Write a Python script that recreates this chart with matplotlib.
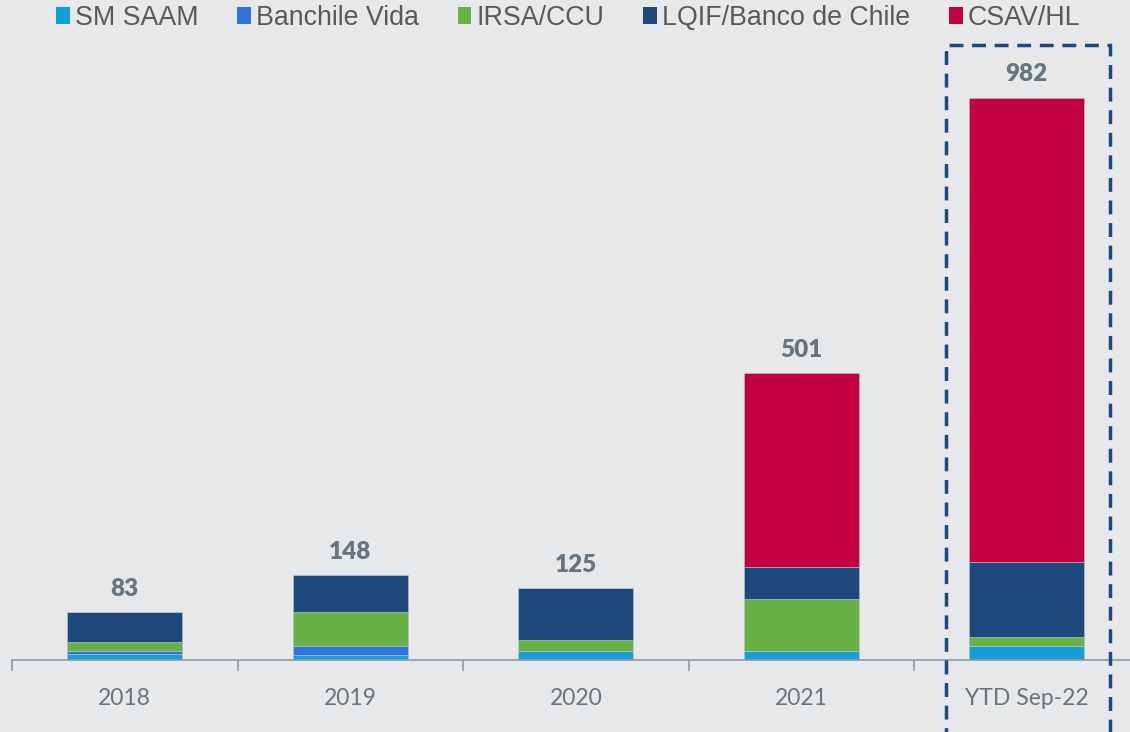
import matplotlib.pyplot as plt
import numpy as np
from matplotlib.patches import Patch, Rectangle

categories = ['2018', '2019', '2020', '2021', 'YTD Sep-22']
series = ['SM SAAM', 'Banchile Vida', 'IRSA/CCU', 'LQIF/Banco de Chile', 'CSAV/HL']
sm_saam = [11, 9, 15, 15, 24]
banchile = [5, 15, 0, 0, 0]
irsa = [15, 60, 20, 91, 16]
lqif = [52, 64, 90, 56, 132]
csav = [0, 0, 0, 339, 810]
totals = [83, 148, 125, 501, 982]
colors = ['#149fdb', '#2d74de', '#67b145', '#1f487c', '#c20042']

bg = '#e7e8ea'
W, H = 1130, 732

fig = plt.figure(figsize=(W / 100, H / 100), dpi=100, facecolor=bg)
ax = fig.add_axes([12 / W, 72 / H, 1127.5 / W, 1100 * 0.5723 / H])
ax.set_facecolor(bg)

x = np.arange(len(categories))
bottom = np.zeros(len(categories))
for vals, col in zip([sm_saam, banchile, irsa, lqif, csav], colors):
    vals = np.array(vals, dtype=float)
    ax.bar(x, vals, 0.511, bottom=bottom, color=col, edgecolor='#b9c3d0', linewidth=0.4)
    bottom += vals

for xi, t in zip(x, totals):
    ax.annotate(str(t), (xi, t), xytext=(0, 17), textcoords='offset points',
                ha='center', va='center', fontsize=17.5, fontweight='heavy',
                color='#66757f', family='Lato')

ax.set_xlim(-0.5, 4.5)
ax.set_ylim(0, 1100)
for s in ['top', 'right', 'left']:
    ax.spines[s].set_visible(False)
ax.spines['bottom'].set_color('#8b98a3')
ax.spines['bottom'].set_linewidth(1.2)
ax.set_yticks([])
ax.set_xticks(x)
ax.set_xticklabels(categories, fontsize=16.5, color='#66757f', family='Lato')
ax.tick_params(axis='x', which='major', length=0, pad=20)
ax.set_xticks(np.arange(-0.5, 4.6, 1), minor=True)
ax.tick_params(axis='x', which='minor', length=8, width=1.2, color='#8b98a3')

handles = [Patch(facecolor=c, edgecolor='none') for c in colors]
fig.legend(handles, series, loc='center', bbox_to_anchor=(0.503, 1 - 18 / H), ncol=5,
           frameon=False, prop={'family': 'Liberation Sans', 'size': 19.3},
           labelcolor='#595959', handlelength=0.5, handleheight=0.55,
           handletextpad=0.2, columnspacing=1.45, borderpad=0, borderaxespad=0)

# dashed highlight box around the latest period
fig.add_artist(Rectangle((946 / W, -10 / H), (1110 - 946) / W, (H - 45 + 10) / H,
                         transform=fig.transFigure, fill=False, edgecolor='#1f487c',
                         linewidth=2.5, linestyle=(0, (4, 2.5)), clip_on=False))

fig.savefig('out.png', dpi=100, facecolor=bg)
